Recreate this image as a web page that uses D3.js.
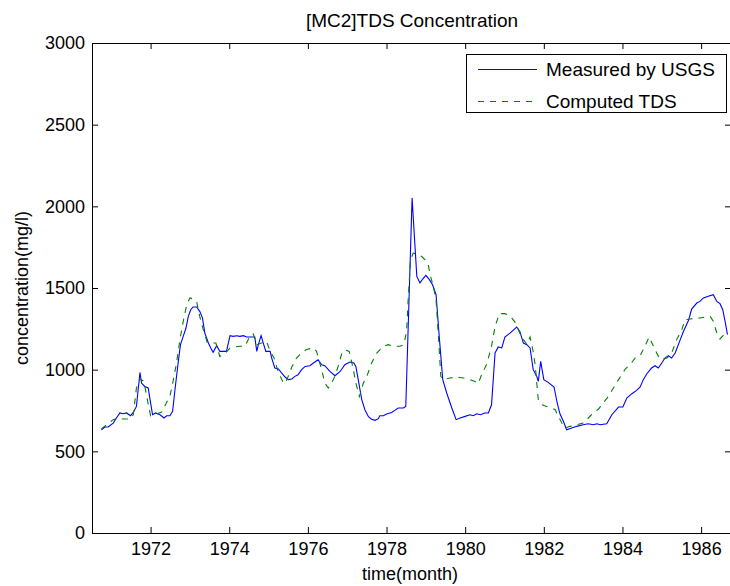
<!DOCTYPE html>
<html>
<head>
<meta charset="utf-8">
<script src="https://cdn.jsdelivr.net/npm/d3@7"></script>
<style>
    body { margin: 0; background: #fff; }
    svg text { font-family: "Liberation Sans", Arial, Helvetica, sans-serif; fill: #000; }
</style>
</head>
<body>
<svg class="chart"></svg>
<script>
// measured TDS (USGS), decimal years / mg/l
var measuredDates = [
    1970.75, 1970.84, 1970.92, 1971.05, 1971.13, 1971.22, 1971.30, 1971.39, 1971.49, 1971.56,
    1971.64, 1971.73, 1971.77, 1971.85, 1971.94, 1971.98, 1972.05, 1972.13, 1972.24, 1972.34,
    1972.41, 1972.49, 1972.56, 1972.62, 1972.70, 1972.76, 1972.83, 1972.90, 1972.96, 1973.02,
    1973.08, 1973.17, 1973.25, 1973.32, 1973.38, 1973.47, 1973.53, 1973.59, 1973.68, 1973.76,
    1973.93, 1974.02, 1974.10, 1974.19, 1974.27, 1974.36, 1974.44, 1974.53, 1974.65, 1974.70,
    1974.74, 1974.81, 1974.86, 1974.93, 1975.04, 1975.08, 1975.16, 1975.25, 1975.33, 1975.42,
    1975.50, 1975.59, 1975.67, 1975.75, 1975.84, 1975.93, 1976.05, 1976.14, 1976.26, 1976.35,
    1976.43, 1976.56, 1976.69, 1976.82, 1976.94, 1977.07, 1977.17, 1977.22, 1977.28, 1977.37,
    1977.45, 1977.54, 1977.62, 1977.71, 1977.79, 1977.83, 1977.92, 1978.00, 1978.13, 1978.21,
    1978.30, 1978.43, 1978.49, 1978.65, 1978.77, 1978.85, 1978.92, 1979.00, 1979.09, 1979.17,
    1979.26, 1979.34, 1979.43, 1979.53, 1979.66, 1979.77, 1979.87, 1980.00, 1980.12, 1980.21,
    1980.29, 1980.39, 1980.50, 1980.59, 1980.67, 1980.76, 1980.84, 1980.93, 1981.01, 1981.14,
    1981.31, 1981.39, 1981.48, 1981.57, 1981.65, 1981.73, 1981.82, 1981.86, 1981.92, 1982.00,
    1982.11, 1982.26, 1982.34, 1982.41, 1982.50, 1982.58, 1982.71, 1982.84, 1983.00, 1983.13,
    1983.26, 1983.35, 1983.43, 1983.60, 1983.73, 1983.90, 1984.01, 1984.11, 1984.24, 1984.36,
    1984.45, 1984.53, 1984.62, 1984.74, 1984.83, 1984.91, 1985.00, 1985.08, 1985.17, 1985.25,
    1985.34, 1985.47, 1985.55, 1985.68, 1985.76, 1985.89, 1985.97, 1986.06, 1986.18, 1986.31,
    1986.40, 1986.48, 1986.55, 1986.61, 1986.67
];
var measuredValues = [
    632, 649, 649, 673, 704, 735, 730, 735, 718, 738,
    775, 983, 918, 897, 888, 826, 724, 735, 724, 704,
    718, 718, 745, 877, 1041, 1153, 1204, 1255, 1326, 1367,
    1384, 1384, 1357, 1316, 1224, 1163, 1133, 1106, 1147, 1112,
    1112, 1208, 1204, 1208, 1204, 1208, 1200, 1200, 1200, 1112,
    1153, 1208, 1167, 1112, 1112, 1071, 1010, 1004, 980, 955,
    939, 943, 959, 969, 1000, 1020, 1024, 1041, 1061, 1030,
    1024, 989, 963, 989, 1030, 1047, 1041, 1020, 939, 816,
    755, 712, 697, 690, 700, 718, 718, 728, 738, 751,
    765, 765, 775, 2051, 1571, 1531, 1555, 1577, 1551, 1520,
    1459, 1204, 939, 857, 765, 694, 704, 714, 724, 718,
    730, 724, 735, 735, 785, 1102, 1139, 1133, 1200, 1224,
    1261, 1234, 1163, 1153, 1133, 1000, 959, 928, 1051, 939,
    922, 894, 796, 730, 683, 632, 643, 653, 663, 669,
    663, 669, 663, 669, 724, 771, 771, 826, 853, 873,
    894, 939, 975, 1010, 1024, 1010, 1041, 1071, 1085, 1071,
    1102, 1184, 1234, 1302, 1371, 1408, 1418, 1439, 1449, 1459,
    1418, 1404, 1367, 1296, 1214
];

// computed TDS
var computedDates = [
    1970.75, 1970.88, 1971.05, 1971.18, 1971.30, 1971.47, 1971.56, 1971.64, 1971.73, 1971.83,
    1971.91, 1972.00, 1972.11, 1972.28, 1972.41, 1972.49, 1972.58, 1972.66, 1972.75, 1972.83,
    1972.92, 1973.00, 1973.08, 1973.17, 1973.25, 1973.34, 1973.44, 1973.55, 1973.66, 1973.76,
    1973.89, 1974.02, 1974.14, 1974.27, 1974.40, 1974.53, 1974.61, 1974.70, 1974.82, 1974.95,
    1975.04, 1975.14, 1975.25, 1975.36, 1975.42, 1975.50, 1975.59, 1975.71, 1975.84, 1975.97,
    1976.14, 1976.22, 1976.35, 1976.43, 1976.52, 1976.65, 1976.77, 1976.86, 1976.94, 1977.05,
    1977.14, 1977.22, 1977.31, 1977.41, 1977.50, 1977.62, 1977.75, 1977.92, 1978.04, 1978.17,
    1978.34, 1978.44, 1978.51, 1978.55, 1978.61, 1978.68, 1978.78, 1978.89, 1978.98, 1979.06,
    1979.12, 1979.19, 1979.26, 1979.32, 1979.38, 1979.44, 1979.61, 1979.78, 1979.95, 1980.12,
    1980.25, 1980.33, 1980.42, 1980.55, 1980.67, 1980.76, 1980.87, 1981.01, 1981.14, 1981.27,
    1981.39, 1981.48, 1981.57, 1981.65, 1981.72, 1981.78, 1981.82, 1981.86, 1981.95, 1982.07,
    1982.20, 1982.29, 1982.37, 1982.46, 1982.54, 1982.67, 1982.84, 1983.00, 1983.13, 1983.26,
    1983.39, 1983.51, 1983.64, 1983.77, 1983.90, 1984.07, 1984.19, 1984.32, 1984.45, 1984.57,
    1984.68, 1984.77, 1984.87, 1984.95, 1985.04, 1985.13, 1985.25, 1985.38, 1985.51, 1985.59,
    1985.72, 1985.85, 1985.97, 1986.10, 1986.23, 1986.31, 1986.40, 1986.48, 1986.58, 1986.69
];
var computedValues = [
    637, 663, 694, 704, 698, 698, 724, 888, 943, 928,
    826, 718, 724, 740, 800, 836, 939, 1041, 1190, 1296,
    1398, 1439, 1433, 1418, 1326, 1245, 1167, 1163, 1163, 1081,
    1098, 1133, 1139, 1143, 1143, 1208, 1220, 1153, 1163, 1173,
    1112, 1071, 983, 928, 914, 959, 1016, 1071, 1102, 1124,
    1133, 1112, 1000, 918, 888, 939, 1020, 1098, 1122, 1112,
    1020, 918, 836, 918, 959, 1041, 1102, 1143, 1153, 1143,
    1143, 1153, 1234, 1428, 1673, 1714, 1704, 1694, 1673, 1643,
    1571, 1510, 1428, 1204, 959, 939, 949, 955, 949, 939,
    928, 915, 970, 1035, 1143, 1265, 1343, 1343, 1330, 1290,
    1224, 1184, 1156, 1200, 1122, 1030, 918, 816, 785, 775,
    765, 755, 714, 673, 643, 653, 663, 673, 704, 735,
    759, 796, 836, 888, 939, 1004, 1030, 1071, 1085, 1143,
    1200, 1153, 1102, 1065, 1065, 1071, 1102, 1184, 1245, 1306,
    1310, 1316, 1316, 1322, 1326, 1296, 1224, 1188, 1214, 1234
];

var yearTicks = [1972, 1974, 1976, 1978, 1980, 1982, 1984, 1986];
var concentrationTicks = [0, 500, 1000, 1500, 2000, 2500, 3000];
var seriesNames = ["Measured by USGS", "Computed TDS"];

window.onload = function() {
    var width = 730, height = 586;
    var left = 92, right = 731, top = 43, bottom = 533;
    var tickFont = 18, labelFont = 18, titleFont = 19;

    var svg = d3.select(".chart")
        .attr("width", width)
        .attr("height", height);

    var x = d3.scaleLinear().domain([1970.51, 1986.76]).range([left, right]);
    var y = d3.scaleLinear().domain([0, 3000]).range([bottom, top]);

    var measured = measuredDates.map(function(d, i) { return [d, measuredValues[i]]; });
    var computed = computedDates.map(function(d, i) { return [d, computedValues[i]]; });

    svg.append("clipPath").attr("id", "plotClip")
        .append("rect")
        .attr("x", left).attr("y", top)
        .attr("width", right - left).attr("height", bottom - top);

    var line = d3.line()
        .x(function(d) { return x(d[0]); })
        .y(function(d) { return y(d[1]); });

    var plot = svg.append("g").attr("clip-path", "url(#plotClip)");

    plot.append("path")
        .datum(measured)
        .attr("d", line)
        .attr("fill", "none")
        .attr("stroke", "#0000ff")
        .attr("stroke-width", 1.1);

    plot.append("path")
        .datum(computed)
        .attr("d", line)
        .attr("fill", "none")
        .attr("stroke", "#008000")
        .attr("stroke-width", 1.1)
        .attr("stroke-dasharray", "6,6");

    // axes, MATLAB style with inward ticks and a box
    svg.append("g")
        .attr("transform", "translate(0," + bottom + ")")
        .call(d3.axisBottom(x).tickValues(yearTicks).tickFormat(d3.format("d"))
            .tickSizeInner(-6).tickSizeOuter(0).tickPadding(9));

    svg.append("g")
        .attr("transform", "translate(0," + top + ")")
        .call(d3.axisTop(x).tickValues(yearTicks).tickFormat("")
            .tickSizeInner(-6).tickSizeOuter(0));

    svg.append("g")
        .attr("transform", "translate(" + left + ",0)")
        .call(d3.axisLeft(y).tickValues(concentrationTicks).tickFormat(d3.format("d"))
            .tickSizeInner(-6).tickSizeOuter(0).tickPadding(7));

    svg.append("g")
        .attr("transform", "translate(" + right + ",0)")
        .call(d3.axisRight(y).tickValues(concentrationTicks).tickFormat("")
            .tickSizeInner(-6).tickSizeOuter(0));

    svg.selectAll(".domain, .tick line").attr("stroke", "#000");
    svg.selectAll(".tick text")
        .attr("font-size", tickFont)
        .attr("font-family", null);

    svg.append("text")
        .attr("x", 412).attr("y", 27)
        .attr("text-anchor", "middle")
        .attr("font-size", titleFont)
        .text("[MC2]TDS Concentration");

    svg.append("text")
        .attr("x", 410).attr("y", 580)
        .attr("text-anchor", "middle")
        .attr("font-size", labelFont)
        .text("time(month)");

    svg.append("text")
        .attr("transform", "translate(28," + ((top + bottom) / 2) + ") rotate(-90)")
        .attr("text-anchor", "middle")
        .attr("font-size", labelFont)
        .text("concentration(mg/l)");

    // legend
    var legend = svg.append("g");
    legend.append("rect")
        .attr("x", 466.5).attr("y", 54.5)
        .attr("width", 260).attr("height", 58)
        .attr("fill", "#fff")
        .attr("stroke", "#000");

    var legendRows = legend.selectAll("g.row").data(seriesNames)
        .enter().append("g")
        .attr("class", "row")
        .attr("transform", function(d, i) {
            return "translate(0," + (69 + i * 32) + ")";
        });

    legendRows.append("line")
        .attr("x1", 478).attr("x2", 537)
        .attr("y1", 0.5).attr("y2", 0.5)
        .attr("stroke", function(d, i) { return i === 0 ? "#0000ff" : "#008000"; })
        .attr("stroke-width", 1.1)
        .attr("stroke-dasharray", function(d, i) { return i === 0 ? null : "6,6"; });

    legendRows.append("text")
        .attr("x", 546).attr("y", 7)
        .attr("font-size", titleFont)
        .text(function(d) { return d; });
};
</script>
</body>
</html>
